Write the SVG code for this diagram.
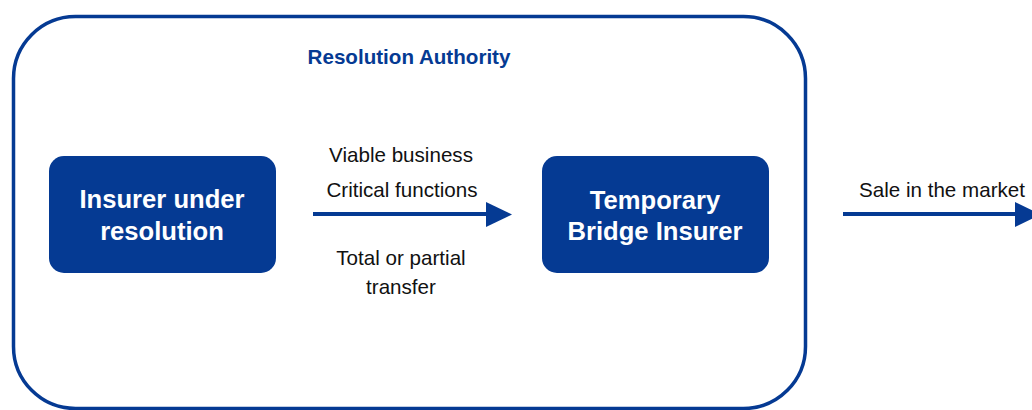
<svg xmlns="http://www.w3.org/2000/svg" width="1032" height="410" viewBox="0 0 1032 410">
<style>
.lbl{font-family:"Liberation Sans",Arial,sans-serif;font-size:20.6px;fill:#111;text-anchor:middle}
.node{fill:#053A93}
.ntxt{font-family:"Liberation Sans",Arial,sans-serif;font-size:25.6px;font-weight:bold;fill:#fff;text-anchor:middle}
.conn{stroke:#053A93;stroke-width:4;fill:none}
.head{fill:#053A93}
</style>
<rect width="1032" height="410" fill="#fff"/>
<g id="authority">
<rect x="13.5" y="16.5" width="792" height="392" rx="62" fill="none" stroke="#053A93" stroke-width="3.5"/>
<text x="409" y="64" font-family="Liberation Sans,Arial,sans-serif" font-size="20.6" font-weight="bold" fill="#053A93" text-anchor="middle">Resolution Authority</text>
</g>
<g id="insurer">
<rect class="node" x="49" y="156" width="227" height="117" rx="15"/>
<text class="ntxt" x="162" y="208">Insurer under</text>
<text class="ntxt" x="162" y="240">resolution</text>
</g>
<g id="bridge">
<rect class="node" x="542" y="156" width="227" height="117" rx="15"/>
<text class="ntxt" x="655" y="209">Temporary</text>
<text class="ntxt" x="655" y="240">Bridge Insurer</text>
</g>
<g id="connectors">
<line class="conn" x1="313" y1="214" x2="488" y2="214"/>
<polygon class="head" points="486,202 512,214.5 486,227"/>
<line class="conn" x1="843" y1="214" x2="1017" y2="214"/>
<polygon class="head" points="1015,202 1041,214.5 1015,227"/>
</g>
<g id="labels">
<text class="lbl" x="401" y="162">Viable business</text>
<text class="lbl" x="402" y="197">Critical functions</text>
<text class="lbl" x="401" y="265">Total or partial</text>
<text class="lbl" x="401" y="294">transfer</text>
<text class="lbl" x="942" y="197">Sale in the market</text>
</g>
</svg>
